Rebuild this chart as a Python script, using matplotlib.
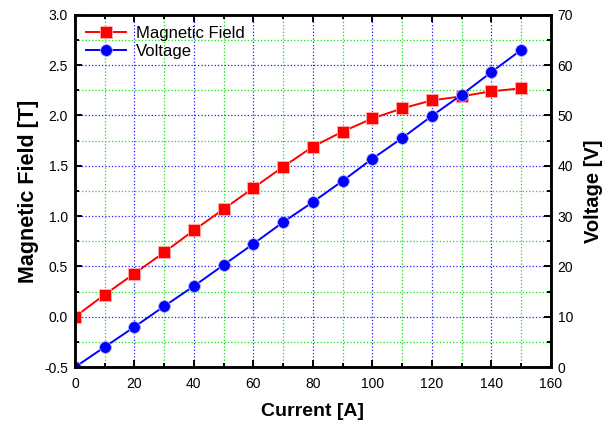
import matplotlib

matplotlib.use("Agg")
import matplotlib.pyplot as plt  # noqa: E402
from matplotlib.ticker import MultipleLocator  # noqa: E402

plt.rcParams.update({
    "font.family": ["Liberation Sans", "DejaVu Sans"],
    "font.size": 10,
})

current = [0, 10, 20, 30, 40, 50, 60, 70, 80, 90, 100, 110, 120, 130, 140, 150]
field = [0.0, 0.22, 0.43, 0.64, 0.86, 1.07, 1.28, 1.49, 1.69, 1.84, 1.97,
         2.07, 2.15, 2.19, 2.24, 2.27]
voltage = [0.0, 4.0, 8.0, 12.1, 16.1, 20.3, 24.5, 28.8, 32.8, 37.0, 41.4,
           45.5, 49.9, 54.1, 58.6, 63.0]

fig = plt.figure(figsize=(6.14, 4.23), dpi=100)
ax = fig.add_axes([0.122, 0.132, 0.775, 0.833])
ax2 = ax.twinx()

l1, = ax.plot(current, field, "-s", color="red", lw=1.4, ms=8,
              mec="#ffb0b0", mew=0.6, label="Magnetic Field")
l2, = ax2.plot(current, voltage, "-o", color="blue", lw=1.4, ms=8.5,
               mec="#b0b0ff", mew=0.6, label="Voltage")

ax.set_xlim(0, 160)
ax.set_ylim(-0.5, 3.0)
ax2.set_ylim(0, 70)

ax.xaxis.set_major_locator(MultipleLocator(20))
ax.xaxis.set_minor_locator(MultipleLocator(10))
ax.yaxis.set_major_locator(MultipleLocator(0.5))
ax.yaxis.set_minor_locator(MultipleLocator(0.25))
ax2.yaxis.set_major_locator(MultipleLocator(10))
ax2.yaxis.set_minor_locator(MultipleLocator(5))

ax.grid(True, which="major", color="#2020ff", ls=":", lw=0.9)
ax.grid(True, which="minor", color="#10e010", ls=":", lw=0.9)
ax.set_axisbelow(True)

for a in (ax, ax2):
    for s in a.spines.values():
        s.set_linewidth(1.8)
ax.tick_params(which="both", direction="in", top=True, right=False,
               width=1.4, labelsize=10)
ax.tick_params(axis="y", pad=5)
ax.tick_params(axis="x", pad=7)
ax.tick_params(which="major", length=5)
ax.tick_params(which="minor", length=3)
ax2.tick_params(which="both", direction="in", width=1.4, labelsize=10, pad=5)
ax2.tick_params(which="major", length=5)
ax2.tick_params(which="minor", length=3)

ax.set_yticklabels([f"{v:.1f}" for v in ax.get_yticks()])

ax.set_xlabel("Current [A]", fontsize=14, fontweight="bold", labelpad=9)
ax.set_ylabel("Magnetic Field [T]", fontsize=15.5, fontweight="bold", labelpad=4)
ax2.set_ylabel("Voltage [V]", fontsize=14.5, fontweight="bold", labelpad=8)

ax2.legend(handles=[l1, l2], loc="upper left", frameon=False, fontsize=12,
           handlelength=2.4, handletextpad=0.6, borderaxespad=0.3,
           borderpad=0.35, labelspacing=0.2)

fig.savefig("out.png", dpi=100)
